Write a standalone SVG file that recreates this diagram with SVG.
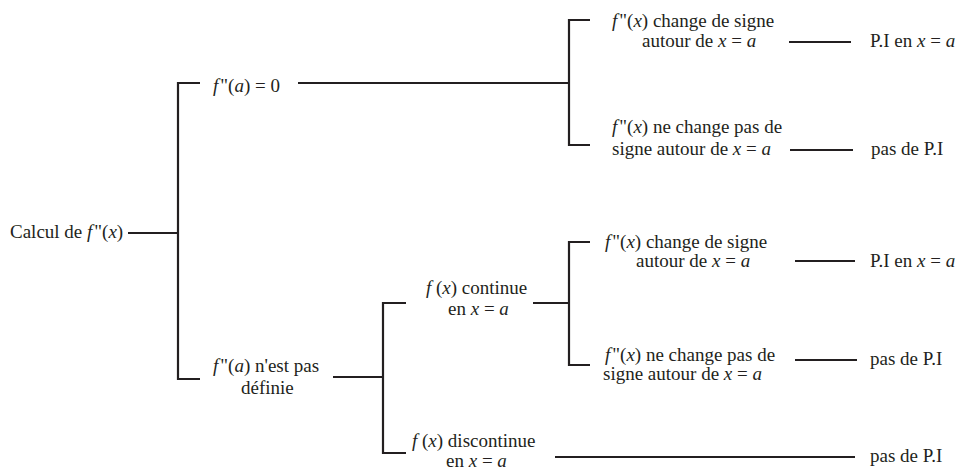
<svg xmlns="http://www.w3.org/2000/svg" width="961" height="470" viewBox="0 0 961 470">
<style>
text{font-family:'Liberation Serif','Times New Roman',serif;font-size:19px;fill:#231f20}
.i{font-style:italic}
.c{fill:none;stroke:#231f20;stroke-width:2.2}
</style>
<rect width="961" height="470" fill="#fff"/>
<g id="connectors">
<path class="c" d="M128 233H178"/>
<path class="c" d="M200 83H178V379H200"/>
<path class="c" d="M298 83H569"/>
<path class="c" d="M590 20H569V145H590"/>
<path class="c" d="M789 42H851"/>
<path class="c" d="M790 150H853"/>
<path class="c" d="M333 377H383"/>
<path class="c" d="M406 303H383V453H406"/>
<path class="c" d="M533 303H569"/>
<path class="c" d="M590 242H569V365H590"/>
<path class="c" d="M795 261H855"/>
<path class="c" d="M795 360H857"/>
<path class="c" d="M555 457H855"/>
</g>
<g id="root"><text x="10" y="238">Calcul de <tspan class="i">f</tspan><tspan dx="2">"(</tspan><tspan class="i">x</tspan>)</text></g>
<g id="n-zero"><text x="213" y="92"><tspan class="i">f</tspan><tspan dx="2">"(</tspan><tspan class="i">a</tspan>) = 0</text></g>
<g id="n-undef"><text x="213" y="372"><tspan class="i">f</tspan><tspan dx="2">"(</tspan><tspan class="i">a</tspan>) n'est pas</text><text x="241" y="394">définie</text></g>
<g id="n-cont"><text x="426" y="294"><tspan class="i">f</tspan> (<tspan class="i">x</tspan>) continue</text><text x="448" y="315">en <tspan class="i">x</tspan> = <tspan class="i">a</tspan></text></g>
<g id="n-discont"><text x="412" y="447"><tspan class="i">f</tspan> (<tspan class="i">x</tspan>) discontinue</text><text x="446" y="467">en <tspan class="i">x</tspan> = <tspan class="i">a</tspan></text></g>
<g id="n-a1"><text x="612" y="27"><tspan class="i">f</tspan><tspan dx="2">"(</tspan><tspan class="i">x</tspan>) change de signe</text><text x="642" y="47">autour de <tspan class="i">x</tspan> = <tspan class="i">a</tspan></text></g>
<g id="n-a2"><text x="612" y="133"><tspan class="i">f</tspan><tspan dx="2">"(</tspan><tspan class="i">x</tspan>) ne change pas de</text><text x="612" y="155">signe autour de <tspan class="i">x</tspan> = <tspan class="i">a</tspan></text></g>
<g id="r-a1"><text x="870" y="47">P.I en <tspan class="i">x</tspan> = <tspan class="i">a</tspan></text></g>
<g id="r-a2"><text x="871" y="155">pas de P.I</text></g>
<g id="n-b1"><text x="605" y="248"><tspan class="i">f</tspan><tspan dx="2">"(</tspan><tspan class="i">x</tspan>) change de signe</text><text x="636" y="267">autour de <tspan class="i">x</tspan> = <tspan class="i">a</tspan></text></g>
<g id="n-b2"><text x="605" y="361"><tspan class="i">f</tspan><tspan dx="2">"(</tspan><tspan class="i">x</tspan>) ne change pas de</text><text x="603" y="380">signe autour de <tspan class="i">x</tspan> = <tspan class="i">a</tspan></text></g>
<g id="r-b1"><text x="870" y="267">P.I en <tspan class="i">x</tspan> = <tspan class="i">a</tspan></text></g>
<g id="r-b2"><text x="870" y="365">pas de P.I</text></g>
<g id="r-c"><text x="870" y="462">pas de P.I</text></g>
</svg>
